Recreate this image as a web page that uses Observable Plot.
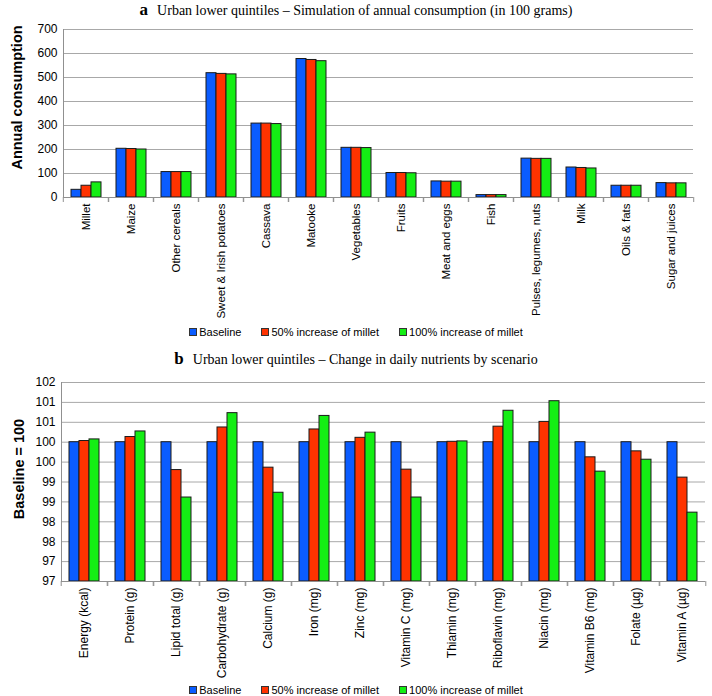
<!DOCTYPE html>
<html><head><meta charset="utf-8">
<script src="https://cdn.jsdelivr.net/npm/d3@7"></script>
<script src="https://cdn.jsdelivr.net/npm/@observablehq/plot@0.6"></script>
<style>
body{margin:0;background:#fff;}
#root{position:relative;width:712px;height:696px;overflow:hidden;font-family:"Liberation Sans",Arial,sans-serif;color:#000;}
.title{position:absolute;left:0;width:712px;text-align:center;font-family:"Liberation Serif","Times New Roman",serif;font-size:14px;line-height:20px;white-space:nowrap;}
.title b{font-size:17px;margin-right:9px;}
.legend{position:absolute;left:0;width:712px;display:flex;justify-content:center;gap:20px;font-size:11px;line-height:16px;white-space:nowrap;}
.legend .sw{display:inline-block;width:6px;height:6px;border:1px solid #333;margin-right:2px;vertical-align:0px;}
.chart{position:absolute;left:0;}
.chart svg text{font-family:"Liberation Sans",Arial,sans-serif;}
</style></head>
<body><div id="root"></div>
<script>
// ---------- data ----------
const seriesNames = ["Baseline", "50% increase of millet", "100% increase of millet"];

const foodCategories = ["Millet", "Maize", "Other cereals", "Sweet & Irish potatoes", "Cassava", "Matooke",
  "Vegetables", "Fruits", "Meat and eggs", "Fish", "Pulses, legumes, nuts", "Milk", "Oils & fats", "Sugar and juices"];
const foodBaseline = [32, 203, 106, 518, 308, 577, 207, 102, 67, 10, 162, 125, 49, 60];
const food50       = [49, 202, 106, 515, 308, 573, 207, 102, 66, 10, 161, 123, 49, 59];
const food100      = [63, 200, 106, 513, 306, 568, 206, 101, 66, 10, 161, 121, 49, 59];
const foodTicks = [0, 100, 200, 300, 400, 500, 600, 700];

const nutrientCategories = ["Energy (kcal)", "Protein (g)", "Lipid total (g)", "Carbohydrate (g)", "Calcium (g)",
  "Iron (mg)", "Zinc (mg)", "Vitamin C (mg)", "Thiamin (mg)", "Riboflavin (mg)", "Niacin (mg)", "Vitamin B6 (mg)",
  "Folate (µg)", "Vitamin A (µg)"];
const nutrientBaseline = [100, 100, 100, 100, 100, 100, 100, 100, 100, 100, 100, 100, 100, 100];
const nutrient50  = [100.03, 100.13, 99.30, 100.37, 99.36, 100.32, 100.11, 99.31, 100.01, 100.39, 100.51, 99.62, 99.77, 99.11];
const nutrient100 = [100.07, 100.27, 98.61, 100.73, 98.73, 100.66, 100.24, 98.61, 100.02, 100.79, 101.03, 99.26, 99.56, 98.23];
const nutrientTicks = [96.5, 97, 97.5, 98, 98.5, 99, 99.5, 100, 100.5, 101, 101.5];
const nutrientTickLabels = ["97", "97", "98", "98", "99", "99", "100", "100", "101", "101", "102"];

// ---------- styles ----------
const colors = ["#0a5cff", "#ff3300", "#14ee14"];
const SANS = "Liberation Sans, Arial, sans-serif";
const GRID = "#a8a8a8";

function makeRows(cats, arrays) {
  const rows = [];
  cats.forEach((c, i) => arrays.forEach((a, s) => rows.push({cat: c, series: seriesNames[s], value: a[i]})));
  return rows;
}

function panel({cats, arrays, ticks, tickFormat, yLabel, height, marginTop, marginBottom, marginLeft, marginRight, labelDx, labelDy, xFont}) {
  const rows = makeRows(cats, arrays);
  const yMin = ticks[0], yMax = ticks[ticks.length - 1];
  const step = (712 - marginLeft - marginRight) / cats.length;
  return Plot.plot({
    width: 712, height, marginTop, marginBottom, marginLeft, marginRight,
    style: {fontFamily: SANS, fontSize: "12px", background: "white", color: "black", overflow: "visible"},
    fx: {domain: cats, padding: 0, label: null},
    x: {domain: seriesNames, paddingInner: 0, paddingOuter: 0.7, axis: null},
    y: {domain: [yMin, yMax]},
    color: {domain: seriesNames, range: colors},
    marks: [
      Plot.gridY(ticks, {stroke: GRID, strokeOpacity: 1, strokeWidth: 1}),
      Plot.barY(rows, {fx: "cat", x: "series", y1: () => yMin, y2: "value", fill: "series", stroke: "#1a1a1a", strokeWidth: 1}),
      Plot.ruleY([yMin], {stroke: "#909090"}),
      Plot.frame({anchor: "left", stroke: "#909090", facetAnchor: "left"}),
      Plot.axisY(ticks, {tickSize: 0, tickPadding: 6, fontSize: 12, label: null, tickFormat}),
      Plot.axisFx({anchor: "bottom", tickRotate: -90, tickSize: 0, tickPadding: 6, fontSize: xFont, label: null}),
      Plot.axisFx({anchor: "bottom", tickSize: 5, tickFormat: () => "", label: null, dx: -step / 2, stroke: "#909090"}),
      Plot.axisFx({anchor: "bottom", tickSize: 5, tickFormat: () => "", label: null, dx: step / 2, stroke: "#909090"}),
      Plot.text([yLabel], {frameAnchor: "left", textAnchor: "middle", rotate: -90, dx: labelDx, dy: labelDy, fontSize: 14.5, fontWeight: "bold", fill: "black", facetAnchor: "left"})
    ]
  });
}

const root = document.getElementById("root");
function addTitle(letter, text, top) {
  const d = document.createElement("div");
  d.className = "title"; d.style.top = top + "px";
  d.innerHTML = `<b>${letter}</b>${text}`;
  root.appendChild(d);
}
function addLegend(top) {
  const d = document.createElement("div");
  d.className = "legend"; d.style.top = top + "px";
  seriesNames.forEach((s, i) => {
    const it = document.createElement("span");
    it.innerHTML = `<span class="sw" style="background:${colors[i]}"></span>${s}`;
    d.appendChild(it);
  });
  root.appendChild(d);
}
function addChart(svg, top) {
  const w = document.createElement("div");
  w.className = "chart"; w.style.top = top + "px";
  w.appendChild(svg);
  root.appendChild(w);
}

addTitle("a", "Urban lower quintiles – Simulation of annual consumption (in 100 grams)", 0);
addChart(panel({
  cats: foodCategories, arrays: [foodBaseline, food50, food100], ticks: foodTicks,
  tickFormat: d => String(d), yLabel: "Annual consumption",
  height: 300, marginTop: 9, marginBottom: 123, marginLeft: 60, marginRight: 16,
  labelDx: -46, labelDy: -16, xFont: 11.5
}), 20);
addLegend(324);

const labelFor = new Map(nutrientTicks.map((t, i) => [t, nutrientTickLabels[i]]));
addTitle("b", "Urban lower quintiles – Change in daily nutrients by scenario", 349);
addChart(panel({
  cats: nutrientCategories, arrays: [nutrientBaseline, nutrient50, nutrient100], ticks: nutrientTicks,
  tickFormat: d => labelFor.get(d), yLabel: "Baseline = 100",
  height: 311, marginTop: 13, marginBottom: 99, marginLeft: 57, marginRight: 3,
  labelDx: -42, labelDy: -13, xFont: 12
}), 369);
addLegend(682);
</script>
</body></html>
